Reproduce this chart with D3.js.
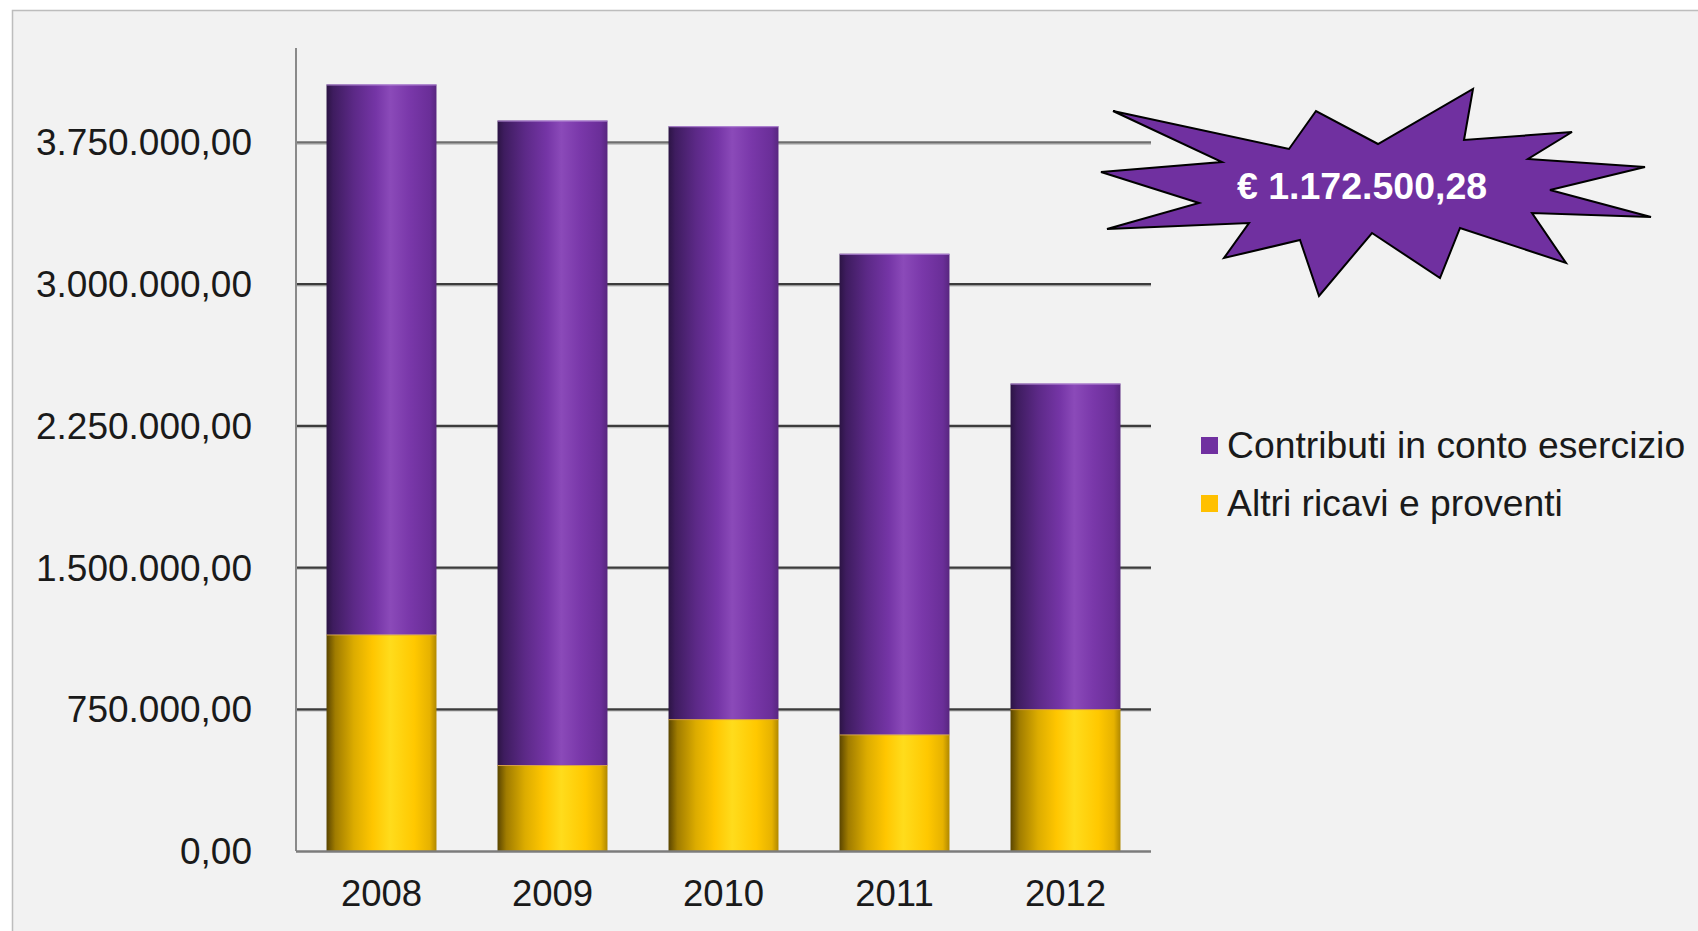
<!DOCTYPE html>
<html>
<head>
<meta charset="utf-8">
<script src="https://cdn.jsdelivr.net/npm/d3@7"></script>
<style>
	html, body { margin: 0; padding: 0; background: #fff; }
	svg { display: block; font-family: "Liberation Sans", Arial, sans-serif; }
</style>
</head>
<body>
<div id="chart"></div>
<script>
// values
var years = ["2008", "2009", "2010", "2011", "2012"];
var contributi = [2911000, 3411000, 3138000, 2544000, 1723000];
var altri = [1146000, 455000, 698000, 617000, 751000];
var yTicks = [0, 750000, 1500000, 2250000, 3000000, 3750000];
var seriesNames = ["Contributi in conto esercizio", "Altri ricavi e proventi"];
var seriesKeys = ["contributi", "altri"];
var seriesColours = ["#7030a0", "#ffc000"];
var badgeText = "\u20ac 1.172.500,28";

// star outline, offsets from its centre
var starShape = [[-263,-81],[-87,-43],[-60,-81],[2,-48],[97,-103],[88,-52],[196,-60],[152,-33],
	[269,-25],[174,-2],[275,25],[156,21],[190,71],[84,36],[64,86],[-4,41],[-57,104],[-76,48],
	[-152,66],[-127,31],[-269,37],[-177,11],[-275,-20],[-154,-30]];

var width = 1698, height = 931;
var plot = { left: 296, right: 1151, top: 48, bottom: 851 };

var it = d3.formatLocale({ decimal: ",", thousands: ".", grouping: [3], currency: ["\u20ac", ""] });
var fmt = it.format(",.2f");

var rows = years.map(function(_y, i) {
	return { year: _y, altri: altri[i], contributi: contributi[i] };
});

var svg = d3.select("#chart")
.append("svg")
.attr("width", width)
.attr("height", height);

var defs = svg.append("defs");

var makeGradient = function(_id, _stops) {
	var g = defs.append("linearGradient")
	.attr("id", _id)
	.attr("x1", "0%").attr("x2", "100%")
	.attr("y1", "0%").attr("y2", "0%");
	_stops.forEach(function(_s) {
		g.append("stop").attr("offset", _s[0]).attr("stop-color", _s[1]);
	});
}

makeGradient("grad_contributi", [
	["0%", "#2c1444"], ["6%", "#3e1c5f"], ["25%", "#5c2987"], ["45%", "#7535a6"],
	["58%", "#8b4ab9"], ["75%", "#7a38aa"], ["94%", "#6a2e98"], ["100%", "#58267f"]
]);
makeGradient("grad_altri", [
	["0%", "#5a4500"], ["8%", "#a07c00"], ["25%", "#dcac00"], ["42%", "#ffc600"],
	["58%", "#ffdc1c"], ["80%", "#ffc800"], ["94%", "#e6b200"], ["100%", "#b08800"]
]);

// panel
svg.append("rect")
.attr("x", 12.5)
.attr("y", 10.5)
.attr("width", width)
.attr("height", height)
.style("fill", "#f2f2f2")
.style("stroke", "#bdbdbd")
.style("stroke-width", 1.5);

var x = d3.scaleBand()
.domain(years)
.range([plot.left, plot.right])
.paddingInner(0.357)
.paddingOuter(0.1785);

var y = d3.scaleLinear()
.domain([0, 4250000])
.range([plot.bottom, plot.top]);

// gridlines
var grid = svg.append("g").attr("class", "grid");
grid.selectAll("line.shadow")
.data(yTicks.filter(function(_d) { return _d > 0; }))
.enter().append("line")
.attr("class", "shadow")
.attr("x1", plot.left).attr("x2", plot.right)
.attr("y1", function(_d) { return y(_d) + 1.5; })
.attr("y2", function(_d) { return y(_d) + 1.5; })
.style("stroke", "#b8b8b8")
.style("stroke-width", 1.5);

grid.selectAll("line.major")
.data(yTicks.filter(function(_d) { return _d > 0; }))
.enter().append("line")
.attr("class", "major")
.attr("x1", plot.left).attr("x2", plot.right)
.attr("y1", function(_d) { return y(_d); })
.attr("y2", function(_d) { return y(_d); })
.style("stroke", function(_d) { return _d === 3750000 ? "#6e6e6e" : "#3c3c3c"; })
.style("stroke-width", 2.2);

// stacked bars
var stack = d3.stack().keys(["altri", "contributi"]);
var layers = stack(rows);

var barGroup = svg.selectAll(".layer")
.data(layers)
.enter().append("g")
.attr("class", "layer")
.style("fill", function(_d) { return "url(#grad_" + _d.key + ")"; });

barGroup.selectAll("rect")
.data(function(_d) { return _d; })
.enter().append("rect")
.attr("x", function(_d) { return x(_d.data.year); })
.attr("y", function(_d) { return y(_d[1]); })
.attr("width", x.bandwidth())
.attr("height", function(_d) { return y(_d[0]) - y(_d[1]); });

// light edge on top of each segment
barGroup.selectAll("line")
.data(function(_d) { return _d.map(function(_v) { return { v: _v, key: _d.key }; }); })
.enter().append("line")
.attr("x1", function(_d) { return x(_d.v.data.year); })
.attr("x2", function(_d) { return x(_d.v.data.year) + x.bandwidth(); })
.attr("y1", function(_d) { return y(_d.v[1]) + 0.5; })
.attr("y2", function(_d) { return y(_d.v[1]) + 0.5; })
.style("stroke", function(_d) { return _d.key === "contributi" ? "#b48ad6" : "#d9a24a"; })
.style("stroke-width", 1);

// axes
svg.append("line")
.attr("x1", plot.left).attr("x2", plot.left)
.attr("y1", plot.top).attr("y2", plot.bottom)
.style("stroke", "#8a8a8a")
.style("stroke-width", 2);

svg.append("line")
.attr("x1", plot.left).attr("x2", plot.right)
.attr("y1", plot.bottom + 0.5).attr("y2", plot.bottom + 0.5)
.style("stroke", "#7c7c7c")
.style("stroke-width", 2.5);

svg.append("g")
.selectAll("text")
.data(yTicks)
.enter().append("text")
.attr("x", 252)
.attr("y", function(_d) { return y(_d) + 13; })
.attr("text-anchor", "end")
.style("font-size", "37px")
.style("fill", "#1a1a1a")
.text(function(_d) { return fmt(_d); });

svg.append("g")
.selectAll("text")
.data(years)
.enter().append("text")
.attr("x", function(_d) { return x(_d) + x.bandwidth() / 2; })
.attr("y", 906)
.attr("text-anchor", "middle")
.style("font-size", "36.5px")
.style("fill", "#1a1a1a")
.text(function(_d) { return _d; });

// legend
var legend = svg.selectAll(".legendGroup")
.data(seriesNames)
.enter().append("g")
.attr("class", "legendGroup")
.attr("transform", function(_d, i) { return "translate(1201, " + (458 + i * 58) + ")"; });

legend.append("rect")
.attr("x", 0)
.attr("y", -21)
.attr("width", 17)
.attr("height", 17)
.style("fill", function(_d, i) { return seriesColours[i]; });

legend.append("text")
.attr("x", 26)
.attr("y", 0)
.style("font-size", "37.3px")
.style("fill", "#1a1a1a")
.text(function(_d) { return _d; });

// starburst badge
var badge = svg.append("g")
.attr("transform", "translate(1376, 192)");

badge.append("path")
.attr("d", d3.line()(starShape) + "Z")
.style("fill", "#7030a0")
.style("stroke", "#000")
.style("stroke-width", 2)
.style("stroke-linejoin", "miter");

badge.append("text")
.attr("x", -14)
.attr("y", 7)
.attr("text-anchor", "middle")
.style("font-size", "37.5px")
.style("font-weight", "bold")
.style("fill", "#fff")
.text(badgeText);
</script>
</body>
</html>
